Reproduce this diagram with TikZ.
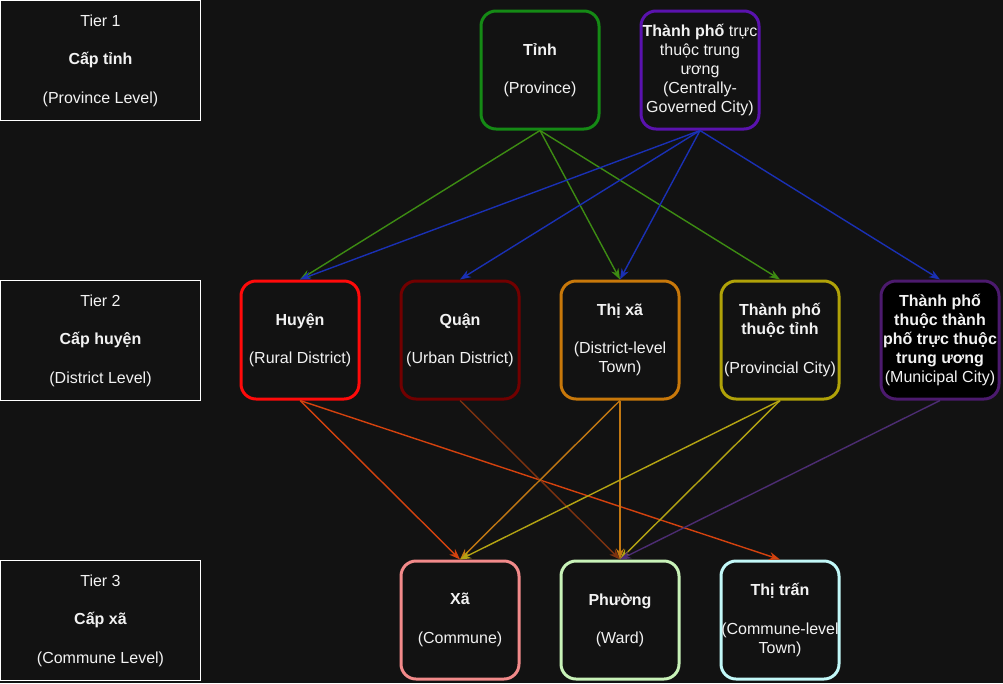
\documentclass[tikz,border=0pt]{standalone}
\usepackage{fontspec}
\setmainfont{Liberation Sans}
\usetikzlibrary{arrows.meta}
\definecolor{bg}{HTML}{121212}
\definecolor{txt}{HTML}{F2F2F2}
\definecolor{cTinh}{HTML}{158A15}
\definecolor{cTPTW}{HTML}{5A12AE}
\definecolor{cHuyen}{HTML}{FF0A0A}
\definecolor{cQuan}{HTML}{720000}
\definecolor{cThixa}{HTML}{C8780A}
\definecolor{cTPT}{HTML}{B0A208}
\definecolor{cTPTP}{HTML}{4C1A6E}
\definecolor{cXa}{HTML}{F28A8A}
\definecolor{cPhuong}{HTML}{C8F2B8}
\definecolor{cThitran}{HTML}{C2F8F8}
\definecolor{eTinh}{HTML}{3D8C12}
\definecolor{eTPTW}{HTML}{1A30B4}
\definecolor{eHuyen}{HTML}{D4420E}
\definecolor{eQuan}{HTML}{7C3210}
\definecolor{eThixa}{HTML}{C27812}
\definecolor{eTPT}{HTML}{B4A412}
\definecolor{eTPTP}{HTML}{4C2C72}
\begin{document}
\begin{tikzpicture}[x=1pt,y=-1pt,
  font=\fontsize{16}{19.2}\selectfont,
  tierbox/.style={draw=white, line width=1pt, fill=bg, minimum width=200pt, minimum height=120pt, inner sep=0pt, text=txt, align=center},
  unit/.style={rounded corners=15pt, line width=3pt, minimum width=118pt, minimum height=118pt, inner sep=0pt, fill=bg, text=txt, align=center},
  link/.style={-{Stealth[length=11pt,width=8pt]}, line width=1.4pt}]
\fill[bg] (0,0) rectangle (1003,683);
\useasboundingbox (0,0) rectangle (1003,683);

% tier labels
\node[tierbox] (t1) at (100.5,60.5) {Tier 1\\[19.2pt]\textbf{Cấp tỉnh}\\[19.2pt](Province Level)};
\node[tierbox] (t2) at (100.5,340.5) {Tier 2\\[19.2pt]\textbf{Cấp huyện}\\[19.2pt](District Level)};
\node[tierbox] (t3) at (100.5,620.5) {Tier 3\\[19.2pt]\textbf{Cấp xã}\\[19.2pt](Commune Level)};

% tier 1
\node[unit, draw=cTinh] (tinh) at (540,70) {\textbf{Tỉnh}\\[19.2pt](Province)};
\node[unit, draw=cTPTW] (tptw) at (700,70) {\textbf{Thành phố} trực\\thuộc trung\\ương\\(Centrally-\\Governed City)};

% tier 2
\node[unit, draw=cHuyen] (huyen) at (300,340) {\textbf{Huyện}\\[19.2pt](Rural District)};
\node[unit, draw=cQuan] (quan) at (460,340) {\textbf{Quận}\\[19.2pt](Urban District)};
\node[unit, draw=cThixa] (thixa) at (620,340) {\textbf{Thị xã}\\[19.2pt](District-level\\Town)};
\node[unit, draw=cTPT] (tpt) at (780,340) {\textbf{Thành phố}\\\textbf{thuộc tỉnh}\\[19.2pt](Provincial City)};
\node[unit, draw=cTPTP, fill=black] (tptp) at (940,340) {\textbf{Thành phố}\\\textbf{thuộc thành}\\\textbf{phố trực thuộc}\\\textbf{trung ương}\\(Municipal City)};

% tier 3
\node[unit, draw=cXa] (xa) at (460,620) {\textbf{Xã}\\[19.2pt](Commune)};
\node[unit, draw=cPhuong] (phuong) at (620,620) {\textbf{Phường}\\[19.2pt](Ward)};
\node[unit, draw=cThitran] (thitran) at (780,620) {\textbf{Thị trấn}\\[19.2pt](Commune-level\\Town)};

% edges tier 1 -> tier 2
\draw[link, eTinh] (tinh.south) -- (huyen.north);
\draw[link, eTinh] (tinh.south) -- (thixa.north);
\draw[link, eTinh] (tinh.south) -- (tpt.north);
\draw[link, eTPTW] (tptw.south) -- (huyen.north);
\draw[link, eTPTW] (tptw.south) -- (quan.north);
\draw[link, eTPTW] (tptw.south) -- (thixa.north);
\draw[link, eTPTW] (tptw.south) -- (tptp.north);

% edges tier 2 -> tier 3
\draw[link, eHuyen] (huyen.south) -- (xa.north);
\draw[link, eHuyen] (huyen.south) -- (thitran.north);
\draw[link, eQuan] (quan.south) -- (phuong.north);
\draw[link, eThixa] (thixa.south) -- (xa.north);
\draw[link, eThixa] (thixa.south) -- (phuong.north);
\draw[link, eTPT] (tpt.south) -- (xa.north);
\draw[link, eTPT] (tpt.south) -- (phuong.north);
\draw[link, eTPTP] (tptp.south) -- (phuong.north);
\end{tikzpicture}
\end{document}
